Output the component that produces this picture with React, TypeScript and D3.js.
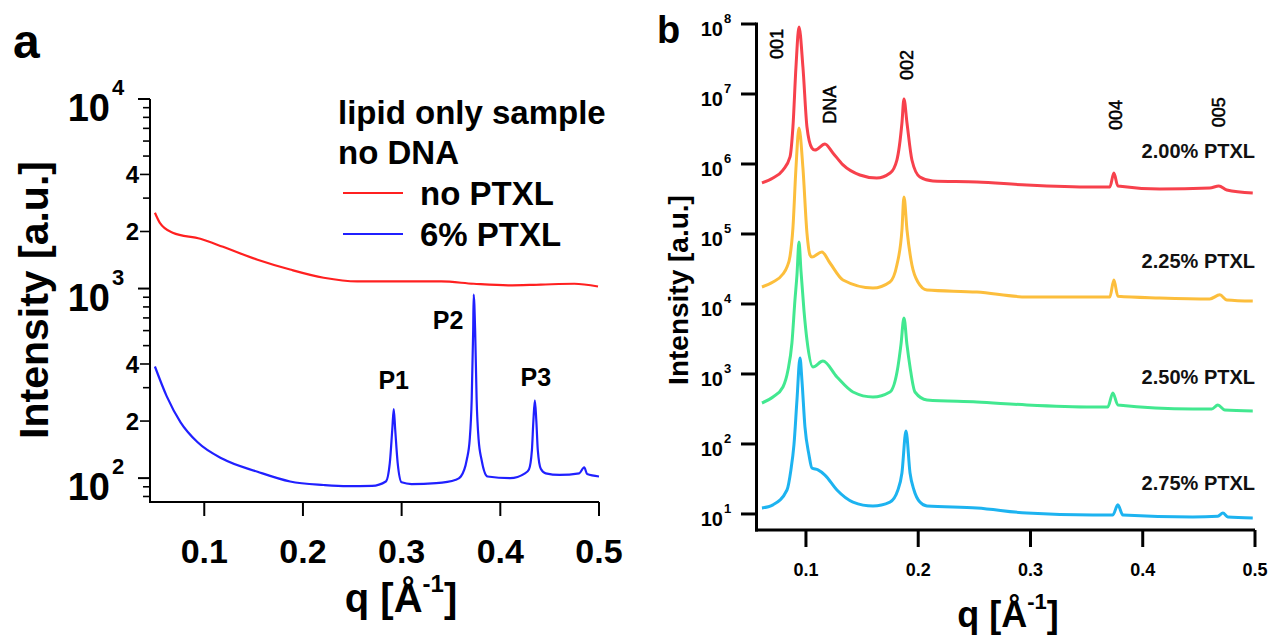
import React from "react";
import * as d3 from "d3";

// ---------- Panel a data ----------
const qA_noPTXL = [0.050, 0.055, 0.068, 0.096, 0.119, 0.154, 0.187, 0.221, 0.255, 0.306, 0.340, 0.373, 0.408, 0.441, 0.475, 0.499];
const iA_noPTXL = [2510, 2220, 1970, 1830, 1660, 1420, 1260, 1140, 1090, 1090, 1090, 1060, 1040, 1050, 1060, 1025];

const qA_6PTXL = [0.050, 0.062, 0.076, 0.093, 0.119, 0.154, 0.187, 0.221, 0.245, 0.270, 0.284, 0.288, 0.2905, 0.292, 0.2935, 0.296, 0.300, 0.310, 0.335, 0.355, 0.360, 0.366, 0.369, 0.371, 0.3725, 0.373, 0.3745, 0.376, 0.378, 0.381, 0.387, 0.410, 0.425, 0.429, 0.432, 0.4335, 0.435, 0.4365, 0.438, 0.441, 0.446, 0.460, 0.480, 0.485, 0.488, 0.500];
const iA_6PTXL = [388, 270, 197, 155, 126, 108, 96, 92, 90.7, 91, 96, 120, 180, 231, 180, 120, 95, 93, 94, 98, 102, 125, 160, 260, 600, 930, 600, 260, 160, 125, 102, 100, 106, 111, 140, 200, 257, 200, 140, 112, 106, 104, 106, 114, 105, 102];

const xTicksA = [0.1, 0.2, 0.3, 0.4, 0.5];
const yMajorA = [100, 1000, 10000];
const peakLabelsA = ["P1", "P2", "P3"];
const peakLabelQA = [0.292, 0.347, 0.436];
const peakLabelIA = [330, 680, 340];
const legendTitleA = ["lipid only sample", "no DNA"];
const seriesNamesA = ["no PTXL", "6% PTXL"];

// ---------- Panel b data ----------
const qB_200 = [0.0608, 0.0706, 0.0795, 0.0858, 0.0884, 0.0911, 0.0938, 0.0973, 0.1009, 0.1053, 0.108, 0.1169, 0.124, 0.133, 0.148, 0.163, 0.175, 0.181, 0.1855, 0.1873, 0.19, 0.1944, 0.2015, 0.2131, 0.2523, 0.2968, 0.3556, 0.3707, 0.3743, 0.3778, 0.4152, 0.4597, 0.4678, 0.4749, 0.498];
const iB_200 = [5.36e5, 6.31e5, 8.2e5, 1.26e6, 3.38e6, 2.43e7, 9.06e7, 2.43e7, 3.38e6, 1.69e6, 1.58e6, 1.93e6, 1.44e6, 9.7e5, 6.97e5, 6.31e5, 7.43e5, 1.14e6, 3.85e6, 8.49e6, 3.85e6, 1.14e6, 6.52e5, 5.71e5, 5.53e5, 5.01e5, 4.69e5, 4.69e5, 7.43e5, 4.85e5, 4.4e5, 4.54e5, 4.85e5, 4.26e5, 3.85e5];

const qB_225 = [0.0608, 0.0706, 0.0795, 0.0831, 0.0858, 0.0884, 0.0911, 0.0938, 0.0973, 0.1009, 0.1036, 0.1053, 0.1142, 0.1214, 0.133, 0.1597, 0.1748, 0.181, 0.1855, 0.1873, 0.19, 0.1944, 0.1997, 0.2078, 0.2523, 0.2968, 0.3556, 0.3707, 0.3743, 0.3778, 0.4152, 0.4597, 0.4687, 0.4749, 0.498];
const iB_225 = [1.75e4, 2.06e4, 2.68e4, 3.38e4, 4.8e4, 1.22e5, 8.77e5, 3.27e6, 8.77e5, 1.03e5, 5.01e4, 4.69e4, 5.53e4, 3.85e4, 2.2e4, 1.69e4, 2.06e4, 3.6e4, 1.14e5, 3.38e5, 1.14e5, 3.6e4, 2.06e4, 1.58e4, 1.48e4, 1.26e4, 1.26e4, 1.26e4, 2.2e4, 1.29e4, 1.22e4, 1.18e4, 1.35e4, 1.14e4, 1.1e4];

const qB_250 = [0.0608, 0.0706, 0.0795, 0.084, 0.0875, 0.0902, 0.092, 0.0938, 0.0955, 0.0982, 0.1009, 0.1062, 0.1151, 0.1276, 0.1419, 0.1597, 0.1748, 0.1819, 0.1846, 0.1873, 0.19, 0.1927, 0.1971, 0.2078, 0.2523, 0.2968, 0.3556, 0.3689, 0.3734, 0.3778, 0.4446, 0.4615, 0.4669, 0.4731, 0.498];
const iB_250 = [385, 469, 652, 1140, 2770, 1.14e4, 2.6e4, 7.69e4, 3.06e4, 8200, 3060, 1260, 1530, 906, 553, 469, 553, 1260, 2600, 6310, 2600, 1260, 553, 426, 398, 361, 338, 338, 536, 361, 316, 316, 361, 306, 296];

const qB_275 = [0.0608, 0.0706, 0.0831, 0.0866, 0.0893, 0.092, 0.0947, 0.0964, 0.0991, 0.1027, 0.1053, 0.1107, 0.1169, 0.1276, 0.1419, 0.1597, 0.1748, 0.1819, 0.1855, 0.1891, 0.1927, 0.1962, 0.2015, 0.2078, 0.2523, 0.2968, 0.3556, 0.3734, 0.3778, 0.3823, 0.4446, 0.4669, 0.4714, 0.4758, 0.498];
const iB_275 = [12.2, 13.5, 22, 42.6, 96.8, 426, 1694, 820, 175, 69.7, 45.4, 42.6, 36, 22, 14.8, 13, 14.8, 22, 38.5, 153, 38.5, 22, 14.8, 13, 12.2, 10.3, 9.68, 9.68, 13.5, 9.68, 9.06, 9.3, 10.3, 9.06, 8.77];

const seriesNamesB = ["2.00% PTXL", "2.25% PTXL", "2.50% PTXL", "2.75% PTXL"];
const seriesLabelIB = [1.55e6, 4.2e4, 9.0e2, 2.8e1];
const xTicksB = [0.1, 0.2, 0.3, 0.4, 0.5];
const yTicksB = [1e1, 1e2, 1e3, 1e4, 1e5, 1e6, 1e7, 1e8];
const peakNamesB = ["001", "DNA", "002", "004", "005"];
const peakNameQB = [0.0742, 0.1214, 0.1900, 0.3761, 0.4678];
const peakNameIB = [5.2e7, 7.0e6, 2.6e7, 5.0e6, 5.5e6];

const FONT = "'Liberation Sans', Arial, Helvetica, sans-serif";

export default function App() {
  const xA = d3.scaleLinear().domain([0.044, 0.5]).range([149, 599]);
  const yA = d3.scaleLog().domain([Math.pow(10, 1.874), 1e4]).range([502, 99]);
  const xB = d3.scaleLinear().domain([0.0555, 0.5]).range([756, 1255]);
  const yB = d3.scaleLog().domain([Math.pow(10, 0.771), 1e8]).range([530, 24]);

  const lineA = d3.line<[number, number]>().x(d => xA(d[0])).y(d => yA(d[1])).curve(d3.curveMonotoneX);
  const lineB = d3.line<[number, number]>().x(d => xB(d[0])).y(d => yB(d[1])).curve(d3.curveMonotoneX);

  const zip = (q: number[], v: number[]) => q.map((x, i) => [x, v[i]] as [number, number]);

  const [yLoA, yHiA] = yA.domain();
  const minorA: number[] = [];
  for (let e = 1; e <= 3; e++) {
    for (let k = 2; k <= 9; k++) {
      const v = k * Math.pow(10, e);
      if (v >= yLoA && v <= yHiA) minorA.push(v);
    }
  }
  const labeledMinorA = [200, 400, 2000, 4000];

  const seriesB = [
    { q: qB_200, v: iB_200, color: "#f7414c" },
    { q: qB_225, v: iB_225, color: "#fcbe3c" },
    { q: qB_250, v: iB_250, color: "#42e890" },
    { q: qB_275, v: iB_275, color: "#1db3f0" },
  ];

  return (
    <svg width={1270} height={636} style={{ position: "absolute", left: 0, top: 0, display: "block", fontFamily: FONT }}>
      <rect x={0} y={0} width={1270} height={636} fill="#ffffff" />
      {/* ================= Panel a ================= */}
      <text x={13} y={58} fontSize={48} fontWeight="bold" fill="#000">a</text>

      <path d={lineA(zip(qA_noPTXL, iA_noPTXL)) || ""} fill="none" stroke="#ff2020" strokeWidth={2.2} />
      <path d={lineA(zip(qA_6PTXL, iA_6PTXL)) || ""} fill="none" stroke="#2020ff" strokeWidth={2.2} />

      <line x1={149} x2={599} y1={502} y2={502} stroke="#000" strokeWidth={2} />
      <line x1={150} x2={150} y1={yA(1e4)} y2={503} stroke="#000" strokeWidth={2} />
      {xTicksA.map(t => (
        <g key={"xa" + t}>
          <line x1={xA(t)} x2={xA(t)} y1={502} y2={516} stroke="#000" strokeWidth={2} />
          <text x={xA(t)} y={563} textAnchor="middle" fontSize={34} fontWeight="bold">{t.toFixed(1)}</text>
        </g>
      ))}
      {minorA.map(v => (
        <line key={"ma" + v} x1={labeledMinorA.includes(v) ? 140 : 143} x2={150} y1={yA(v)} y2={yA(v)} stroke="#000" strokeWidth={1.6} />
      ))}
      {labeledMinorA.map(v => (
        <text key={"la" + v} x={139} y={yA(v)} dy="0.36em" textAnchor="end" fontSize={24} fontWeight="bold">{String(Math.round(v / Math.pow(10, Math.floor(Math.log10(v)))))}</text>
      ))}
      {yMajorA.map(v => (
        <g key={"ya" + v}>
          <line x1={138} x2={150} y1={yA(v)} y2={yA(v)} stroke="#000" strokeWidth={2} />
          <text x={110} y={yA(v) + 22} textAnchor="end" fontSize={38} fontWeight="bold">10</text>
          <text x={112} y={yA(v) - 4} textAnchor="start" fontSize={22} fontWeight="bold">{Math.round(Math.log10(v))}</text>
        </g>
      ))}
      <text transform={`translate(34,300) rotate(-90)`} textAnchor="middle" dominantBaseline="central" fontSize={41} fontWeight="bold">Intensity [a.u.]</text>
      <text x={401} y={612} textAnchor="middle" fontSize={40} fontWeight="bold">
        q [Å<tspan fontSize={24} dy={-20}>-1</tspan><tspan dy={20}>]</tspan>
      </text>

      {peakLabelsA.map((p, i) => (
        <text key={p} x={xA(peakLabelQA[i])} y={yA(peakLabelIA[i])} dy="0.36em" textAnchor="middle" fontSize={25} fontWeight="bold">{p}</text>
      ))}

      {legendTitleA.map((t, i) => (
        <text key={t} x={338} y={112 + i * 40} dy="0.36em" fontSize={33} fontWeight="bold">{t}</text>
      ))}
      {seriesNamesA.map((t, i) => (
        <g key={t}>
          <line x1={343} x2={403} y1={193 + i * 41} y2={193 + i * 41} stroke={i === 0 ? "#ff2020" : "#2020ff"} strokeWidth={2.2} />
          <text x={420} y={193 + i * 41} dy="0.36em" fontSize={33} fontWeight="bold">{t}</text>
        </g>
      ))}

      {/* ================= Panel b ================= */}
      <text x={657} y={43} fontSize={38} fontWeight="bold" fill="#000">b</text>

      {seriesB.map((s, i) => (
        <path key={"sb" + i} d={lineB(zip(s.q, s.v)) || ""} fill="none" stroke={s.color} strokeWidth={3} strokeLinejoin="round" />
      ))}

      <line x1={755} x2={1255} y1={530} y2={530} stroke="#000" strokeWidth={3} />
      <line x1={756.5} x2={756.5} y1={yB(1e8) - 1.5} y2={531.5} stroke="#000" strokeWidth={3} />
      {yTicksB.map(v => (
        <g key={"yb" + v}>
          <line x1={741} x2={756} y1={yB(v)} y2={yB(v)} stroke="#000" strokeWidth={3} />
          <text x={723} y={yB(v) + 12} textAnchor="end" fontSize={20} fontWeight="bold">10</text>
          <text x={724} y={yB(v) - 1} textAnchor="start" fontSize={13} fontWeight="bold">{Math.round(Math.log10(v))}</text>
        </g>
      ))}
      {xTicksB.map(t => (
        <g key={"xb" + t}>
          <line x1={xB(t)} x2={xB(t)} y1={530} y2={547} stroke="#000" strokeWidth={3} />
          <text x={xB(t)} y={576} textAnchor="middle" fontSize={18} fontWeight="bold">{t.toFixed(1)}</text>
        </g>
      ))}
      <text transform={`translate(678,290) rotate(-90)`} textAnchor="middle" dominantBaseline="central" fontSize={28} fontWeight="bold">Intensity [a.u.]</text>
      <text x={1008} y={627} textAnchor="middle" fontSize={36} fontWeight="bold">
        q [Å<tspan fontSize={22} dy={-18}>-1</tspan><tspan dy={18}>]</tspan>
      </text>

      {peakNamesB.map((p, i) => (
        <text key={p} transform={`translate(${xB(peakNameQB[i])},${yB(peakNameIB[i])}) rotate(-90)`} textAnchor="middle" dominantBaseline="central" fontSize={18} fill="#000" stroke="#000" strokeWidth={0.5}>{p}</text>
      ))}
      {seriesNamesB.map((t, i) => (
        <text key={t} x={1255} y={yB(seriesLabelIB[i])} dy="0.36em" textAnchor="end" fontSize={20} fontWeight="bold" fill="#111">{t}</text>
      ))}
    </svg>
  );
}
